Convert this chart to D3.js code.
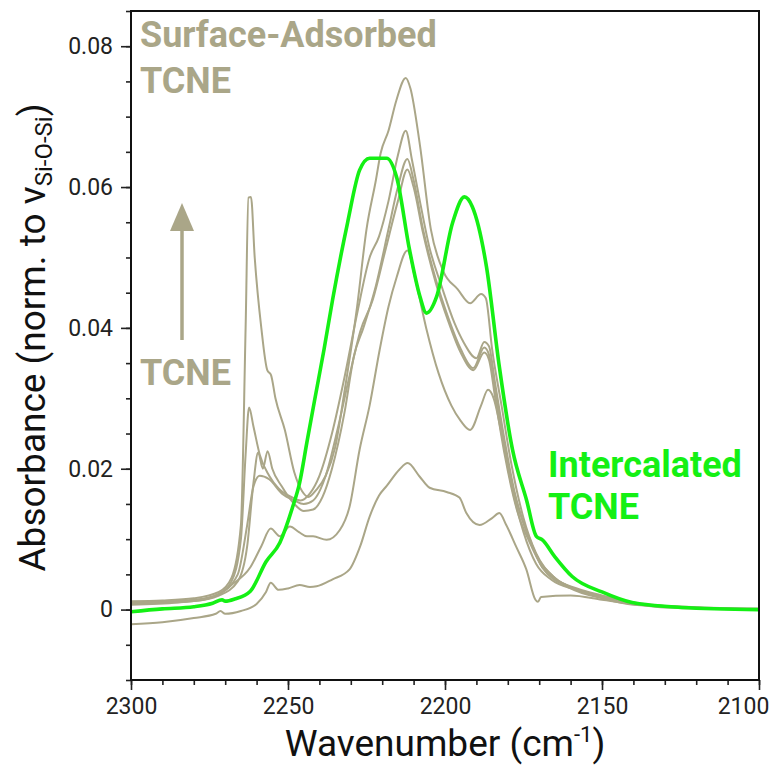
<!DOCTYPE html>
<html>
<head>
<meta charset="utf-8">
<script src="https://cdn.jsdelivr.net/npm/d3@7"></script>
<style>
  body { margin: 0; background: #fff; }
  text { font-family: Roboto, "Noto Sans", sans-serif; }
</style>
</head>
<body>
<div id="chart"></div>
<script>
// wavenumber (cm-1), absorbance
const xTicks = [2300, 2250, 2200, 2150, 2100]
const yTicks = [0, 0.02, 0.04, 0.06, 0.08]

const surfaceA = [
  [2300, 0.0012], [2290, 0.0013], [2280, 0.0016], [2272, 0.0025], [2268, 0.0045],
  [2265, 0.012], [2263.5, 0.040], [2262.6, 0.0585], [2261.8, 0.0586], [2260.6, 0.050],
  [2258.5, 0.040], [2256.6, 0.034], [2255.4, 0.0333], [2254, 0.030], [2251, 0.0255],
  [2248, 0.0195], [2245.5, 0.0168], [2243.5, 0.0160], [2241, 0.0170], [2238, 0.0190],
  [2235, 0.0230], [2232, 0.031], [2228, 0.043], [2225, 0.054], [2222, 0.061],
  [2220.5, 0.0648], [2218, 0.068], [2215.5, 0.0723], [2212.5, 0.0755], [2211, 0.074],
  [2208, 0.066], [2204.5, 0.054], [2200.5, 0.048], [2196, 0.0455], [2192, 0.0435],
  [2188.5, 0.0448], [2187, 0.0442], [2185, 0.037], [2182, 0.029], [2179, 0.021],
  [2175, 0.013], [2171, 0.008], [2165, 0.0045], [2158, 0.0030], [2150, 0.0020],
  [2140, 0.0010], [2130, 0.0005], [2115, 0.0002], [2100, 0.0001]
]

const surfaceB = [
  [2300, 0.0010], [2280, 0.0014], [2272, 0.0022], [2268, 0.004], [2265, 0.010],
  [2263.5, 0.022], [2262.4, 0.0287], [2261, 0.026], [2259, 0.022], [2256, 0.019],
  [2253, 0.0172], [2249, 0.0160], [2246, 0.0155], [2243, 0.0165], [2240, 0.019],
  [2236, 0.025], [2232, 0.033], [2228, 0.042], [2224, 0.050], [2221, 0.053],
  [2218, 0.058], [2215, 0.0645], [2212.5, 0.068], [2210.5, 0.0638], [2208, 0.058],
  [2205, 0.0515], [2201, 0.0458], [2197, 0.0407], [2194, 0.0379], [2190, 0.0357],
  [2187.5, 0.0380], [2186, 0.0374], [2184, 0.032], [2181, 0.024], [2178, 0.017],
  [2174, 0.011], [2170, 0.007], [2165, 0.0045], [2158, 0.0028], [2150, 0.0018],
  [2140, 0.0009], [2130, 0.0004], [2100, 0.0001]
]

const surfaceC = [
  [2300, 0.0008], [2280, 0.0012], [2272, 0.002], [2266, 0.004], [2263, 0.009],
  [2261, 0.018], [2259.5, 0.0223], [2258, 0.0200], [2256.5, 0.0225], [2255, 0.0200],
  [2252, 0.0175], [2248, 0.0150], [2245, 0.0140], [2242, 0.0142], [2239, 0.016],
  [2236, 0.020], [2232, 0.028], [2229, 0.036], [2226, 0.040], [2222, 0.046],
  [2218, 0.054], [2215, 0.060], [2212, 0.0640], [2210, 0.061], [2207, 0.054],
  [2203, 0.047], [2199, 0.0415], [2195, 0.0370], [2191, 0.0343], [2187.5, 0.0372],
  [2186, 0.0362], [2184, 0.031], [2181, 0.023], [2177, 0.015], [2173, 0.010],
  [2169, 0.006], [2160, 0.0032], [2150, 0.0018], [2140, 0.0008], [2100, 0.0001]
]

const surfaceC2 = [
  [2300, 0.0009], [2280, 0.0013], [2272, 0.0022], [2266, 0.005], [2263, 0.012],
  [2261, 0.0175], [2259, 0.0190], [2256, 0.0185], [2252, 0.0165], [2248, 0.0155],
  [2245, 0.0150], [2242, 0.0155], [2238, 0.019], [2234, 0.026], [2230, 0.034],
  [2227, 0.0395], [2223, 0.044], [2219, 0.051], [2215, 0.058], [2212, 0.0625],
  [2210, 0.060], [2207, 0.0535], [2203, 0.0465], [2199, 0.041], [2195, 0.0365],
  [2191, 0.0340], [2187.5, 0.0365], [2186, 0.0355], [2184, 0.030], [2181, 0.022],
  [2177, 0.014], [2173, 0.0095], [2169, 0.006], [2160, 0.003], [2150, 0.0016],
  [2140, 0.0007], [2100, 0.0]
]

const surfaceD = [
  [2300, 0.0007], [2285, 0.0010], [2275, 0.0016], [2268, 0.0035], [2262, 0.0060],
  [2258.5, 0.0090], [2255.5, 0.0115], [2252.6, 0.0104], [2249.4, 0.0118], [2246.5, 0.0110],
  [2244, 0.0104], [2242, 0.0104], [2237.7, 0.0099], [2233.5, 0.0113], [2230.4, 0.0146],
  [2227.2, 0.0227], [2224, 0.029], [2220.8, 0.0369], [2218, 0.043], [2215.4, 0.0472],
  [2212, 0.0510], [2209.5, 0.047], [2206, 0.0400], [2202, 0.0335], [2198, 0.0290],
  [2195, 0.0268], [2192, 0.0255], [2188.5, 0.0290], [2186.3, 0.0312], [2184.5, 0.030],
  [2182, 0.025], [2179, 0.018], [2175, 0.011], [2171, 0.0065], [2166, 0.0042],
  [2158, 0.0028], [2150, 0.0017], [2140, 0.0008], [2100, 0.0]
]

const surfaceF = [
  [2300, -0.0021], [2290, -0.0018], [2280, -0.0012], [2273, -0.0006], [2271.5, -0.0002],
  [2270, -0.0006], [2265, -0.0002], [2260, 0.0008], [2257, 0.0025], [2255.5, 0.0038],
  [2253, 0.0028], [2250, 0.0030], [2246.3, 0.0035], [2243, 0.0032], [2240.9, 0.0033],
  [2235.8, 0.0043], [2230.4, 0.0057], [2227, 0.0090], [2224, 0.0132], [2221, 0.0162],
  [2218.5, 0.0176], [2214.5, 0.0199], [2211.9, 0.0208], [2208.1, 0.0189], [2204.9, 0.0173],
  [2199.5, 0.0167], [2195.4, 0.0159], [2193.2, 0.0137], [2189, 0.0120], [2185, 0.0130],
  [2182.7, 0.0137], [2180.5, 0.0120], [2177.3, 0.0089], [2174.1, 0.0057], [2171.2, 0.0014],
  [2170.4, 0.0011], [2169.4, 0.0018], [2160, 0.0020], [2150, 0.0014], [2140, 0.0008],
  [2130, 0.0003], [2100, 0.0]
]

const intercalated = [
  [2300, -0.0003], [2290, 0.0001], [2280, 0.0004], [2274, 0.0009], [2271, 0.0014],
  [2270, 0.0012], [2267, 0.0015], [2262, 0.0026], [2257, 0.0068], [2252.6, 0.0095],
  [2248.5, 0.0146], [2246.3, 0.0180], [2244, 0.0237], [2241.5, 0.0298], [2238.5, 0.0370],
  [2235.8, 0.0440], [2231, 0.0550], [2227.2, 0.0624], [2224, 0.0641], [2218.6, 0.0641],
  [2215.4, 0.0614], [2211.3, 0.0511], [2208, 0.0445], [2205.9, 0.0421], [2202.7, 0.0444],
  [2197.6, 0.0549], [2193.8, 0.0586], [2191.3, 0.0572], [2186.8, 0.0487], [2182.7, 0.0345],
  [2178.5, 0.0227], [2174, 0.0155], [2170.9, 0.0104], [2169, 0.0099], [2165, 0.0075],
  [2159.5, 0.0047], [2150, 0.0025], [2140.4, 0.0010], [2124.5, 0.0003], [2100, 0.0]
]

const surfaceSeries = [surfaceA, surfaceB, surfaceC, surfaceC2, surfaceD, surfaceF]

const width = 771
const height = 765
const plotLeft = 131, plotRight = 759, plotTop = 11, plotBottom = 680
const khaki = "#aaa688"
const green = "#14f014"

const svg = d3.select("#chart")
  .append("svg")
  .attr("width", width)
  .attr("height", height)

const x = d3.scaleLinear().domain([2300, 2100]).range([plotLeft, plotRight])
const y = d3.scaleLinear().domain([-0.01, 0.085]).range([plotBottom, plotTop])

const line = d3.line()
  .x(d => x(d[0]))
  .y(d => y(d[1]))
  .curve(d3.curveMonotoneX)

// minor ticks
svg.append("g")
  .attr("transform", `translate(0,${plotBottom})`)
  .call(d3.axisBottom(x).tickValues(d3.range(2300, 2099, -10)).tickSize(5).tickFormat(""))
svg.append("g")
  .attr("transform", `translate(${plotLeft},0)`)
  .call(d3.axisLeft(y).tickValues(d3.range(-0.01, 0.0851, 0.005)).tickSize(5).tickFormat(""))

// major ticks
const xAxis = svg.append("g")
  .attr("transform", `translate(0,${plotBottom})`)
  .call(d3.axisBottom(x).tickValues(xTicks).tickSize(10).tickPadding(8).tickFormat(d3.format("d")))
svg.append("g")
  .attr("transform", `translate(${plotLeft},0)`)
  .call(d3.axisLeft(y).tickValues(yTicks).tickSize(10).tickPadding(8)
    .tickFormat(d => d === 0 ? "0" : d3.format(".2f")(d)))

svg.selectAll(".domain").remove()
svg.selectAll(".tick line").attr("stroke", "#222").attr("stroke-width", 1.6)
svg.selectAll(".tick text")
  .attr("font-size", 23)
  .attr("fill", "#222")
  .style("font-family", "Roboto, sans-serif")

// last label sits a little left of its tick so it stays on the page
xAxis.selectAll(".tick text").filter(d => d === 2100).attr("dx", -16)

const plot = svg.append("g")

plot.selectAll("path.surface")
  .data(surfaceSeries)
  .enter()
    .append("path")
    .attr("class", "surface")
    .attr("d", line)
    .attr("fill", "none")
    .attr("stroke", khaki)
    .attr("stroke-width", 2)

plot.append("path")
  .attr("d", line(intercalated))
  .attr("fill", "none")
  .attr("stroke", green)
  .attr("stroke-width", 3.6)

// frame
svg.append("rect")
  .attr("x", plotLeft)
  .attr("y", plotTop)
  .attr("width", plotRight - plotLeft)
  .attr("height", plotBottom - plotTop)
  .attr("fill", "none")
  .attr("stroke", "#111")
  .attr("stroke-width", 2)

// annotations
const note = svg.append("g")
  .attr("font-weight", "bold")
  .attr("font-size", 36)

note.append("text").attr("x", 140).attr("y", 47).attr("fill", khaki).text("Surface-Adsorbed")
note.append("text").attr("x", 140).attr("y", 93).attr("fill", khaki).text("TCNE")
note.append("text").attr("x", 140).attr("y", 385).attr("fill", khaki).text("TCNE")
note.append("text").attr("x", 548).attr("y", 477).attr("fill", green).text("Intercalated")
note.append("text").attr("x", 548).attr("y", 519).attr("fill", green).text("TCNE")

svg.append("line")
  .attr("x1", 182).attr("x2", 182)
  .attr("y1", 340).attr("y2", 226)
  .attr("stroke", khaki)
  .attr("stroke-width", 3.5)
svg.append("path")
  .attr("d", "M182,203 L170,231 L194,231 Z")
  .attr("fill", khaki)

// axis titles
svg.append("text")
  .attr("x", (plotLeft + plotRight) / 2)
  .attr("y", 756)
  .attr("text-anchor", "middle")
  .attr("font-size", 37)
  .attr("fill", "#111")
  .call(t => {
    t.append("tspan").text("Wavenumber (cm")
    t.append("tspan").attr("dy", -14).attr("font-size", 22).text("-1")
    t.append("tspan").attr("dy", 14).text(")")
  })

svg.append("text")
  .attr("transform", `translate(45,${(plotTop + plotBottom) / 2 - 8}) rotate(-90)`)
  .attr("text-anchor", "middle")
  .attr("font-size", 37)
  .attr("fill", "#111")
  .call(t => {
    t.append("tspan").text("Absorbance (norm. to v")
    t.append("tspan").attr("dy", 7).attr("font-size", 24).text("Si-O-Si")
    t.append("tspan").attr("dy", -7).text(")")
  })
</script>
</body>
</html>
